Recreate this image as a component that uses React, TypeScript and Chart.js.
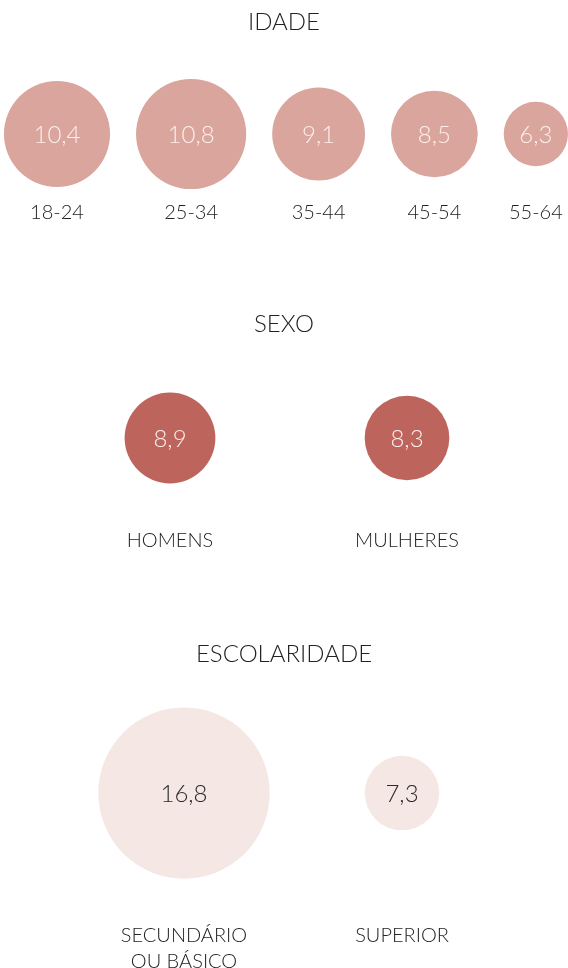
import React, { useEffect, useRef } from "react";
import { Chart, registerables } from "chart.js";

Chart.register(...registerables);

// ---- data ----
const idadeLabels = ["18-24", "25-34", "35-44", "45-54", "55-64"];
const idadeValues = [10.4, 10.8, 9.1, 8.5, 6.3];

const sexoLabels = ["HOMENS", "MULHERES"];
const sexoValues = [8.9, 8.3];

const escolaridadeLabels = [["SECUNDÁRIO", "OU BÁSICO"], "SUPERIOR"];
const escolaridadeValues = [16.8, 7.3];

// ---- styles ----
const FONT = "Lato, 'Open Sans', sans-serif";
const TEXT = "#222222";
const RADIUS_PER_UNIT = 5.1; // px of radius per percentage point
const WIDTH = 568;

const fmt = (v: number) => v.toFixed(1).replace(".", ",");

// packs bubbles left to right with a constant gap (pixel-unit x axis)
function packPositions(values: number[], start: number, gap: number) {
  const xs: number[] = [];
  values.forEach((v, i) => {
    if (i === 0) xs.push(start);
    else xs.push(xs[i - 1] + values[i - 1] * RADIUS_PER_UNIT + gap + v * RADIUS_PER_UNIT);
  });
  return xs;
}

type SectionProps = {
  title: string;
  labels: (string | string[])[];
  values: number[];
  color: string;
  valueColor: string;
  height: number;
  xs: number[];
  xMin: number;
  xMax: number;
  yMax: number;
  titlePad: { top: number; bottom: number };
  tickLineHeight: number;
  bottomPad: number;
};

function Section(p: SectionProps) {
  const ref = useRef<HTMLCanvasElement | null>(null);
  useEffect(() => {
    if (!ref.current) return;
    const valueLabels = {
      id: "valueLabels",
      afterDatasetsDraw(chart: any) {
        const ctx = chart.ctx;
        const meta = chart.getDatasetMeta(0);
        ctx.save();
        ctx.font = `300 24px ${FONT}`;
        ctx.fillStyle = p.valueColor;
        ctx.textAlign = "center";
        ctx.textBaseline = "middle";
        meta.data.forEach((el: any, i: number) => {
          ctx.fillText(fmt(p.values[i]), el.x, el.y + 1);
        });
        ctx.restore();
      },
    };
    const chart = new Chart(ref.current, {
      type: "bubble",
      data: {
        datasets: [
          {
            data: p.values.map((v, i) => ({ x: p.xs[i], y: 0, r: v * RADIUS_PER_UNIT })),
            backgroundColor: p.color,
            hoverBackgroundColor: p.color,
            borderWidth: 0,
            hoverBorderWidth: 0,
            clip: false as any,
          },
        ],
      },
      options: {
        animation: false,
        responsive: false,
        events: [],
        layout: { autoPadding: false, padding: { top: 0, left: 0, right: 0, bottom: p.bottomPad } },
        plugins: {
          legend: { display: false },
          tooltip: { enabled: false },
          title: {
            display: true,
            text: p.title,
            color: TEXT,
            font: { family: FONT, size: 24, weight: "300" as any, lineHeight: 1.2 },
            padding: p.titlePad,
          },
        },
        scales: {
          x: {
            type: "linear",
            position: "bottom",
            min: p.xMin,
            max: p.xMax,
            grid: { display: false, drawTicks: false },
            border: { display: false },
            afterBuildTicks: (scale: any) => {
              scale.ticks = p.xs.map((v) => ({ value: v }));
            },
            ticks: {
              autoSkip: false,
              maxRotation: 0,
              minRotation: 0,
              padding: 0,
              color: TEXT,
              font: { family: FONT, size: 20, weight: "300" as any, lineHeight: p.tickLineHeight },
              callback: (_v: any, i: number) => p.labels[i] as any,
            },
          },
          y: { type: "linear", display: false, min: -1, max: p.yMax },
        },
      },
      plugins: [valueLabels],
    });
    return () => chart.destroy();
  }, []);
  return (
    <canvas
      ref={ref}
      width={WIDTH}
      height={p.height}
      style={{ display: "block", width: WIDTH, height: p.height }}
    />
  );
}

export default function App() {
  const idadeXs = packPositions(idadeValues, 57, 26);
  return (
    <div
      style={{
        position: "absolute",
        left: 0,
        top: 0,
        width: WIDTH,
        height: 968,
        overflow: "hidden",
        background: "#ffffff",
      }}
    >
      <Section
        title="IDADE"
        labels={idadeLabels}
        values={idadeValues}
        color="#d9a59d"
        valueColor="#fcefec"
        height={290}
        xs={idadeXs}
        xMin={0}
        xMax={WIDTH}
        yMax={1}
        titlePad={{ top: 8, bottom: 30.5 }}
        tickLineHeight={1.2}
        bottomPad={65.3}
      />
      <Section
        title="SEXO"
        labels={sexoLabels}
        values={sexoValues}
        color="#bd655d"
        valueColor="#fcefec"
        height={310}
        xs={[0, 1]}
        xMin={-170 / 237}
        xMax={(WIDTH - 170) / 237}
        yMax={1}
        titlePad={{ top: 19.6, bottom: 8.8 }}
        tickLineHeight={1.2}
        bottomPad={47.2}
      />
      <Section
        title="ESCOLARIDADE"
        labels={escolaridadeLabels}
        values={escolaridadeValues}
        color="#f5e7e4"
        valueColor="#2a2a2a"
        height={374}
        xs={[0, 1]}
        xMin={-184 / 218}
        xMax={(WIDTH - 184) / 218}
        yMax={0.961}
        titlePad={{ top: 39.6, bottom: 0 }}
        tickLineHeight={1.28}
        bottomPad={0}
      />
    </div>
  );
}
